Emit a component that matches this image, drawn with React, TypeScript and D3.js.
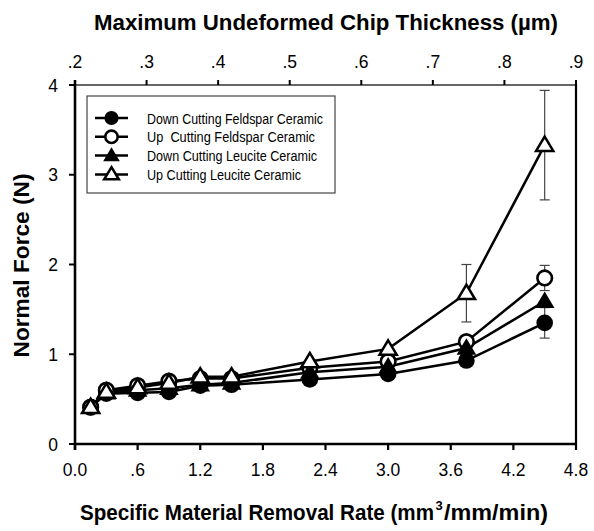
import React from "react";
import * as d3 from "d3";

const xValues = [0.15, 0.3, 0.6, 0.9, 1.2, 1.5, 2.25, 3.0, 3.75, 4.5];
const downFeldspar = [0.41, 0.56, 0.57, 0.58, 0.65, 0.66, 0.72, 0.78, 0.93, 1.35];
const upFeldspar = [0.41, 0.6, 0.65, 0.7, 0.73, 0.73, 0.85, 0.92, 1.14, 1.85];
const downLeucite = [0.41, 0.57, 0.6, 0.62, 0.66, 0.68, 0.8, 0.86, 1.07, 1.59];
const upLeucite = [0.41, 0.58, 0.63, 0.68, 0.75, 0.75, 0.92, 1.06, 1.68, 3.33];

const downFeldsparErr = [0, 0, 0, 0, 0, 0, 0, 0, 0, 0.17];
const upFeldsparErr = [0, 0, 0, 0, 0, 0, 0, 0, 0, 0.14];
const downLeuciteErr = [0, 0, 0, 0, 0, 0, 0, 0, 0, 0];
const upLeuciteErr = [0, 0, 0, 0, 0, 0, 0, 0, 0.32, 0.61];

const xTicks = [0, 0.6, 1.2, 1.8, 2.4, 3.0, 3.6, 4.2, 4.8];
const xTickLabels = ["0.0", ".6", "1.2", "1.8", "2.4", "3.0", "3.6", "4.2", "4.8"];
const topTicks = [0.2, 0.3, 0.4, 0.5, 0.6, 0.7, 0.8, 0.9];
const topTickLabels = [".2", ".3", ".4", ".5", ".6", ".7", ".8", ".9"];
const yTicks = [0, 1, 2, 3, 4];

const seriesNames = [
  "Down Cutting Feldspar Ceramic",
  "Up  Cutting Feldspar Ceramic",
  "Down Cutting Leucite Ceramic",
  "Up Cutting Leucite Ceramic",
];
const legendTextWidths = [176, 168, 170, 154];

type Series = { name: string; values: number[]; err: number[]; shape: "circle" | "triangle"; filled: boolean };

const series: Series[] = [
  { name: seriesNames[0], values: downFeldspar, err: downFeldsparErr, shape: "circle", filled: true },
  { name: seriesNames[1], values: upFeldspar, err: upFeldsparErr, shape: "circle", filled: false },
  { name: seriesNames[2], values: downLeucite, err: downLeuciteErr, shape: "triangle", filled: true },
  { name: seriesNames[3], values: upLeucite, err: upLeuciteErr, shape: "triangle", filled: false },
];

const W = 594;
const H = 531;
const L = 75, R = 576, T = 85, B = 444;
const FONT = "'Liberation Sans', Arial, sans-serif";

function Marker({ cx, cy, shape, filled, k = 1 }: { cx: number; cy: number; shape: string; filled: boolean; k?: number }) {
  const fill = filled ? "#000" : "#fff";
  if (shape === "circle") {
    return <circle cx={cx} cy={cy} r={(filled ? 8.3 : 7.3) * k} fill={fill} stroke="#000" strokeWidth={filled ? 0 : 2.6} />;
  }
  const s = (filled ? 9.8 : 8.6) * k;
  const pts = [
    [cx, cy - s],
    [cx + s * 1.0, cy + s * 0.68],
    [cx - s * 1.0, cy + s * 0.68],
  ];
  return (
    <polygon
      points={pts.map((p) => p.join(",")).join(" ")}
      fill={fill}
      stroke="#000"
      strokeWidth={filled ? 0 : 2.5}
      strokeLinejoin="miter"
    />
  );
}

export default function App() {
  const x = d3.scaleLinear().domain([0, 4.8]).range([L, R]);
  const xTop = d3.scaleLinear().domain([0.2, 0.9]).range([L, R]);
  const y = d3.scaleLinear().domain([0, 4]).range([B, T]);
  const line = d3
    .line<number>()
    .x((_, i) => x(xValues[i]))
    .y((d) => y(d));

  const legX = 87, legY = 96, legW = 248, legH = 97;
  const rowY = (i: number) => 118 + i * 18.8;

  return (
    <svg width={W} height={H} style={{ display: "block", position: "absolute", left: 0, top: 0 }} fontFamily={FONT}>
      <rect width={W} height={H} fill="#fff" />
      {/* frame */}
      <line x1={L} x2={R} y1={T} y2={T} stroke="#333" strokeWidth={1.3} />
      <line x1={R} x2={R} y1={T - 1} y2={B} stroke="#000" strokeWidth={2.2} />
      <line x1={L} x2={R + 1} y1={B} y2={B} stroke="#000" strokeWidth={2.6} />
      <line x1={L} x2={L} y1={T - 5} y2={B + 6} stroke="#000" strokeWidth={2.6} />

      {/* bottom ticks */}
      {xTicks.map((t, i) => (
        <g key={"xb" + i}>
          <line x1={x(t)} x2={x(t)} y1={B} y2={B + 6} stroke="#000" strokeWidth={2.2} />
          <text x={x(t)} y={476} textAnchor="middle" fontSize={17.5}>
            {xTickLabels[i]}
          </text>
        </g>
      ))}
      {/* top ticks */}
      {topTicks.map((t, i) => (
        <g key={"xt" + i}>
          <line x1={xTop(t)} x2={xTop(t)} y1={T} y2={T - 5} stroke="#000" strokeWidth={2} />
          <text x={xTop(t)} y={68} textAnchor="middle" fontSize={17.5}>
            {topTickLabels[i]}
          </text>
        </g>
      ))}
      {/* y ticks */}
      {yTicks.map((t, i) => (
        <g key={"y" + i}>
          <line x1={L - 6} x2={L} y1={y(t)} y2={y(t)} stroke="#000" strokeWidth={2} />
          <text x={58} y={y(t) + 6.5} textAnchor="end" fontSize={17.5}>
            {t}
          </text>
        </g>
      ))}

      {/* titles */}
      <text x={326} y={30} textAnchor="middle" fontSize={21.5} fontWeight="bold" textLength={464} lengthAdjust="spacingAndGlyphs">
        Maximum Undeformed Chip Thickness (µm)
      </text>
      <text x={80} y={520} fontSize={21.5} fontWeight="bold" textLength={354} lengthAdjust="spacingAndGlyphs">
        Specific Material Removal Rate (mm
      </text>
      <text x={435.5} y={510} fontSize={13} fontWeight="bold">
        3
      </text>
      <text x={444} y={520} fontSize={21.5} fontWeight="bold" textLength={104} lengthAdjust="spacingAndGlyphs">
        /mm/min)
      </text>
      <text
        transform={`translate(29,${(T + B) / 2 + 1}) rotate(-90)`}
        textAnchor="middle"
        fontSize={21.5}
        fontWeight="bold"
        textLength={184}
        lengthAdjust="spacingAndGlyphs"
      >
        Normal Force (N)
      </text>

      {/* error bars */}
      {series.map((s, si) =>
        s.values.map((v, i) =>
          s.err[i] > 0 ? (
            <g key={`e${si}-${i}`} stroke="#444" strokeWidth={1.2}>
              <line x1={x(xValues[i])} x2={x(xValues[i])} y1={y(v - s.err[i])} y2={y(v + s.err[i])} />
              <line x1={x(xValues[i]) - 5} x2={x(xValues[i]) + 5} y1={y(v - s.err[i])} y2={y(v - s.err[i])} />
              <line x1={x(xValues[i]) - 5} x2={x(xValues[i]) + 5} y1={y(v + s.err[i])} y2={y(v + s.err[i])} />
            </g>
          ) : null
        )
      )}

      {/* lines */}
      {series.map((s, si) => (
        <path key={"l" + si} d={line(s.values) || ""} fill="none" stroke="#000" strokeWidth={2.5} />
      ))}
      {/* markers */}
      {series.map((s, si) =>
        s.values.map((v, i) => (
          <Marker key={`m${si}-${i}`} cx={x(xValues[i])} cy={y(v)} shape={s.shape} filled={s.filled} />
        ))
      )}

      {/* legend */}
      <rect x={legX} y={legY} width={legW} height={legH} fill="#fff" stroke="#444" strokeWidth={1.2} />
      {series.map((s, i) => (
        <g key={"lg" + i}>
          <line x1={95} x2={128} y1={rowY(i)} y2={rowY(i)} stroke="#000" strokeWidth={2.5} />
          <Marker cx={111.5} cy={rowY(i)} shape={s.shape} filled={s.filled} k={0.85} />
          <text
            x={147}
            y={rowY(i) + 5.5}
            fontSize={15.5}
            textLength={legendTextWidths[i]}
            lengthAdjust="spacingAndGlyphs"
          >
            {s.name.replace(/ /g, "\u00a0")}
          </text>
        </g>
      ))}
    </svg>
  );
}
